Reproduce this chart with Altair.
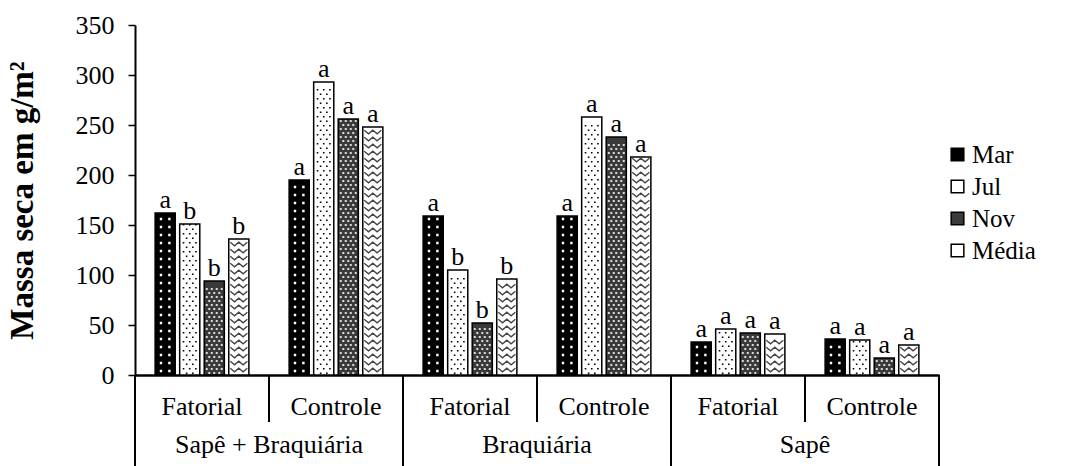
import altair as alt
import pandas as pd

groups = ["Sapê + Braquiária", "Braquiária", "Sapê"]
subs = ["Fatorial", "Controle"]
months = ["Mar", "Jul", "Nov", "Média"]

# values in order: S+B Fatorial, S+B Controle, Braq Fatorial, Braq Controle, Sapê Fatorial, Sapê Controle
mar = [162, 195, 159, 159, 33, 36]
jul = [151, 293, 105, 258, 46, 35]
nov = [94, 256, 52, 238, 42, 17]
media = [136, 248, 96, 218, 41, 30]

mar_l = ["a", "a", "a", "a", "a", "a"]
jul_l = ["b", "a", "b", "a", "a", "a"]
nov_l = ["b", "a", "b", "a", "a", "a"]
media_l = ["b", "a", "b", "a", "a", "a"]

fills = ["#000000", "#ffffff", "#3a3a3a", "#ffffff"]

FONT = "Liberation Serif"

keys = [f"{g}|{s}" for g in groups for s in subs]
series = {"Mar": (mar, mar_l), "Jul": (jul, jul_l), "Nov": (nov, nov_l), "Média": (media, media_l)}

rows = []
for m in months:
    vals, lets = series[m]
    for i, k in enumerate(keys):
        rows.append({"key": k, "group": k.split("|")[0], "sub": k.split("|")[1],
                     "month": m, "value": vals[i], "letter": lets[i]})
df = pd.DataFrame(rows)

xscale = alt.Scale(domain=keys, paddingInner=0, paddingOuter=0)
xoff_scale = alt.Scale(domain=months, paddingInner=0.18, paddingOuter=0.82)
yscale = alt.Scale(domain=[0, 350])

bars = alt.Chart(df).mark_bar(stroke="black", strokeWidth=1.5).encode(
    x=alt.X("key:N", scale=xscale, sort=keys,
            axis=alt.Axis(title=None, labelExpr="split(datum.label, '|')[1]", labelAngle=0,
                          labelFont=FONT, labelFontSize=26, labelColor="black",
                          ticks=False, labelPadding=18, domainColor="black", domainWidth=2.5)),
    xOffset=alt.XOffset("month:N", scale=xoff_scale, sort=months),
    y=alt.Y("value:Q", scale=yscale,
            axis=alt.Axis(values=list(range(0, 351, 50)), grid=False, title="Massa seca em g/m²",
                          labelFont=FONT, labelFontSize=26, labelColor="black",
                          tickSize=7, tickColor="black", tickWidth=1.5, labelPadding=14,
                          domainColor="black", domainWidth=2,
                          titleFont=FONT, titleFontSize=33, titleFontWeight="bold", titleColor="black",
                          titleAngle=270, titleX=-113, titleY=175, titleAlign="center",
                          titleBaseline="middle")),
    fill=alt.Fill("month:N", sort=months, scale=alt.Scale(domain=months, range=fills),
                  legend=alt.Legend(title=None, orient="none", legendX=810, legendY=117,
                                    symbolType="square", symbolSize=160, symbolStrokeColor="black",
                                    symbolStrokeWidth=1.5, labelFont=FONT, labelFontSize=25,
                                    labelColor="black", rowPadding=6, labelOffset=2)),
)


def texture(month, path, step, start, filled, color, size, stroke_width=0):
    """Rows of a small repeating glyph drawn inside the bars of one series."""
    base = alt.Chart(df).transform_filter(f"datum.month == '{month}'").transform_calculate(
        rowy=f"sequence({start}, datum.value - 2, {step})"
    ).transform_flatten(["rowy"])
    if filled:
        mk = base.mark_point(shape=path, filled=True, fill=color, opacity=1, size=size, strokeWidth=0)
    else:
        mk = base.mark_point(shape=path, filled=False, stroke=color, opacity=1, size=size,
                             strokeWidth=stroke_width)
    return mk.encode(
        x=alt.X("key:N", scale=xscale, sort=keys),
        xOffset=alt.XOffset("month:N", scale=xoff_scale, sort=months),
        y=alt.Y("rowy:Q", scale=yscale),
    )


sq = lambda cx, cy, h: f"M {cx - h} {cy - h} H {cx + h} V {cy + h} H {cx - h} Z "

mar_path = sq(-0.42, 0, 0.12) + sq(0.42, 0, 0.12)
jul_path = (sq(-0.62, -0.22, 0.08) + sq(0.0, -0.22, 0.08) + sq(0.62, -0.22, 0.08)
            + sq(-0.31, 0.22, 0.08) + sq(0.31, 0.22, 0.08))
nov_path = "".join(sq(x, -0.2, 0.1) for x in (-0.75, -0.25, 0.25, 0.75)) + \
           "".join(sq(x, 0.2, 0.1) for x in (-0.5, 0.0, 0.5))
media_path = "M -0.95 -0.2 L -0.475 0.2 L 0 -0.2 L 0.475 0.2 L 0.95 -0.2"

tex_mar = texture("Mar", mar_path, 8, 4, True, "white", 400)
tex_jul = texture("Jul", jul_path, 9, 4, True, "black", 400)
tex_nov = texture("Nov", nov_path, 8, 4, True, "#d8d8d8", 400)
tex_med = texture("Média", media_path, 7, 5, False, "#444444", 324, 1.3)

letters = alt.Chart(df).mark_text(font=FONT, fontSize=26, baseline="alphabetic", dy=-5, color="black").encode(
    x=alt.X("key:N", scale=xscale, sort=keys),
    xOffset=alt.XOffset("month:N", scale=xoff_scale, sort=months),
    y=alt.Y("value:Q", scale=yscale),
    text="letter:N",
)

sep_df = pd.DataFrame({"key": keys, "sub": [k.split("|")[1] for k in keys]})

inner_sep = alt.Chart(sep_df).transform_filter("datum.sub == 'Controle'").mark_rule(
    color="black", strokeWidth=2).encode(
    x=alt.X("key:N", scale=xscale, sort=keys, bandPosition=0),
    y=alt.value(350), y2=alt.value(397),
)

group_sep = alt.Chart(sep_df).transform_filter("datum.sub == 'Fatorial'").mark_rule(
    color="black", strokeWidth=2).encode(
    x=alt.X("key:N", scale=xscale, sort=keys, bandPosition=0),
    y=alt.value(350), y2=alt.value(441),
)

end_sep = alt.Chart(sep_df).transform_filter(f"datum.key == '{keys[-1]}'").mark_rule(
    color="black", strokeWidth=2).encode(
    x=alt.X("key:N", scale=xscale, sort=keys, bandPosition=1),
    y=alt.value(350), y2=alt.value(441),
)

group_lab = alt.Chart(sep_df).transform_filter("datum.sub == 'Fatorial'").transform_calculate(
    grp="split(datum.key, '|')[0]").mark_text(
    font=FONT, fontSize=26, color="black", baseline="middle").encode(
    x=alt.X("key:N", scale=xscale, sort=keys, bandPosition=1),
    y=alt.value(420),
    text="grp:N",
)

chart = alt.layer(bars, tex_mar, tex_jul, tex_nov, tex_med, letters,
                  inner_sep, group_sep, end_sep, group_lab).properties(
    width=804, height=350,
    background="white",
    autosize=alt.AutoSizeParams(type="none"),
    padding={"left": 135, "top": 25, "right": 127, "bottom": 91},
).configure_view(stroke=None)

chart.save("out.html", embed_options={"renderer": "svg", "actions": False})
